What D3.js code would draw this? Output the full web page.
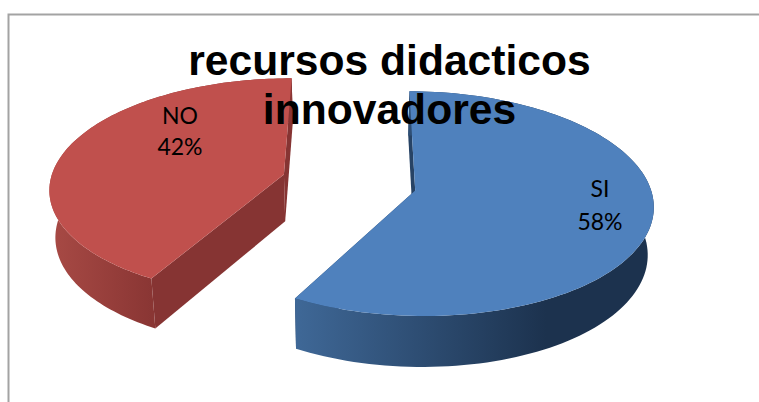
<!DOCTYPE html>
<html><head><meta charset="utf-8">
<script src="https://cdnjs.cloudflare.com/ajax/libs/d3/7.8.5/d3.min.js"></script>
<style>html,body{margin:0;padding:0;background:#fff;overflow:hidden}svg{display:block}</style>
</head><body><svg id="c" width="759" height="402"></svg>
<script>
const categories = ["SI", "NO"];
const values = [58, 42];
const percentLabels = ["58%", "42%"];
const titleLines = ["recursos didacticos", "innovadores"];
const topColors = ["#4f81bd", "#c0504d"];
const edgeColors = ["#274365", "#863433"];
const wallStops = [["#3f6897", "#1c324e"], ["#a84a45", "#8a3634"]];
const labelPos = [[600, 189, 222], [180, 116, 147]];

const svg = d3.select("#c");
// frame
svg.append("path").attr("d", "M8.5,402V14.5H759").attr("fill", "none").attr("stroke", "#a3a3a3").attr("stroke-width", 2);

// 3D projection of the pie
const X0 = 349, Y0 = 182.5, A = 234, B = 109, P = 0.115, E = 0.29, Zs = 0.98, D = 47;
const sx = d3.scaleLinear().domain([0, 1]).range([X0, X0 + A]);
const sy = d3.scaleLinear().domain([0, 1]).range([Y0, Y0 - B]);
function proj(wx, wv, bottom) {
  const s = 1 / (1 + P * wv), k = bottom ? Zs : 1;
  const x = X0 + (sx(wx) - X0) * s * k;
  const y = Y0 + (sy(wv) - Y0) * s * k + (bottom ? D * s : 0);
  return [x, y];
}
const rot = 0.3 * Math.PI / 180;
const arcs = d3.pie().sort(null).startAngle(rot).endAngle(rot + 2 * Math.PI)(values);
const line = d3.line();
function rim(d, a, bottom) {
  const m = (d.startAngle + d.endAngle) / 2;
  return proj(Math.sin(a) + E * Math.sin(m), Math.cos(a) + E * Math.cos(m), bottom);
}
function apex(d, bottom) {
  const m = (d.startAngle + d.endAngle) / 2;
  return proj(E * Math.sin(m), E * Math.cos(m), bottom);
}
const angles = d => d3.range(0, 121).map(i => d.startAngle + (d.endAngle - d.startAngle) * i / 120);

const defs = svg.append("defs");
arcs.forEach((d, i) => {
  const front = angles(d).filter(a => Math.cos(a) < 0.1).map(a => rim(d, a, false)[0]);
  const g = defs.append("linearGradient").attr("id", "w" + i).attr("gradientUnits", "userSpaceOnUse")
    .attr("x1", d3.min(front)).attr("x2", i === 0 ? d3.min(front) + (d3.max(front) - d3.min(front)) * 0.7 : d3.max(front)).attr("y1", 0).attr("y2", 0);
  g.append("stop").attr("offset", 0).attr("stop-color", wallStops[i][0]);
  g.append("stop").attr("offset", 1).attr("stop-color", wallStops[i][1]);
});

arcs.forEach((d, i) => {
  const as = angles(d);
  const G = svg.append("g");
  // straight walls
  [d.startAngle, d.endAngle].forEach(a => {
    G.append("path").attr("d", line([rim(d, a, false), apex(d, false), apex(d, true), rim(d, a, true)]) + "Z")
      .attr("fill", edgeColors[i]);
  });
  // outer wall
  const pts = as.map(a => rim(d, a, false)).concat(as.slice().reverse().map(a => rim(d, a, true)));
  G.append("path").attr("d", line(pts) + "Z").attr("fill", `url(#w${i})`);
  // top face
  const top = [apex(d, false)].concat(as.map(a => rim(d, a, false)));
  G.append("path").attr("d", line(top) + "Z").attr("fill", topColors[i]);
});

// title
svg.append("g").selectAll("text").data(titleLines).join("text")
  .attr("x", 389.5).attr("y", (d, i) => 75 + i * 49).attr("text-anchor", "middle")
  .attr("font-family", "'Liberation Sans',Arial,sans-serif").attr("font-weight", 700).attr("font-size", 42.6)
  .attr("fill", "#000").text(d => d);

// data labels
arcs.forEach((d, i) => {
  const g = svg.append("g").attr("font-family", "Lato,sans-serif").attr("font-size", 23).attr("fill", "#000").attr("text-anchor", "middle");
  g.append("text").attr("x", labelPos[i][0]).attr("y", labelPos[i][1] + 8).text(categories[i]);
  g.append("text").attr("x", labelPos[i][0]).attr("y", labelPos[i][2] + 8).text(percentLabels[i]);
});
</script></body></html>
